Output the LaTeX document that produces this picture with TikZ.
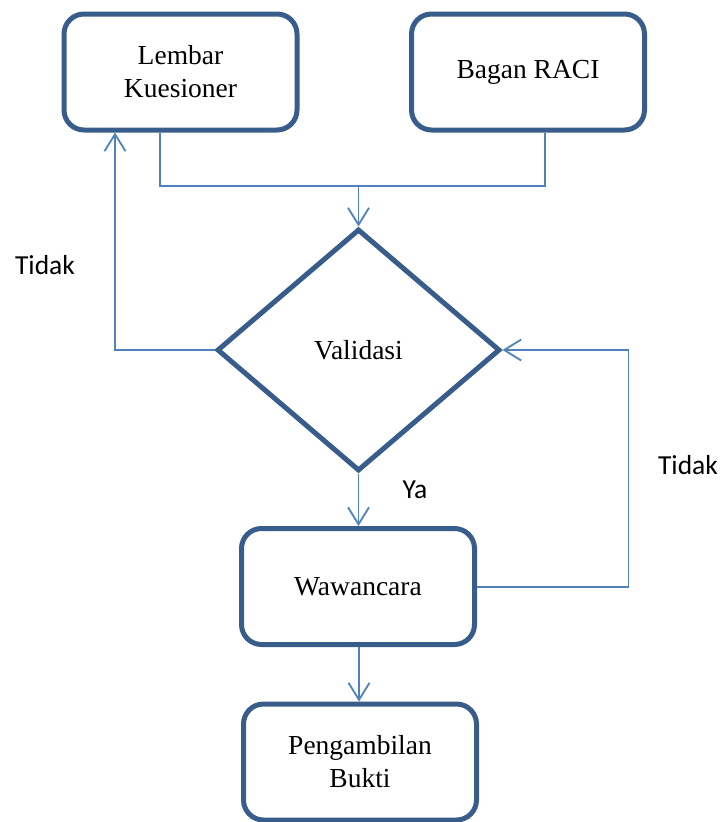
\documentclass[tikz,border=0pt]{standalone}
\usepackage{fontspec}
\setmainfont{Liberation Serif}
\newfontfamily\labfont{Carlito}
\usetikzlibrary{shapes.geometric,arrows.meta}
\definecolor{boxblue}{HTML}{385D8A}
\definecolor{linkblue}{HTML}{4F81BD}
\begin{document}
\begin{tikzpicture}[x=1pt,y=-1pt,
  box/.style={draw=boxblue,line width=5pt,rounded corners=20pt,minimum width=233pt,minimum height=116pt,inner sep=0pt,align=center,font=\fontsize{27.5}{33}\selectfont},
  dec/.style={draw=boxblue,line width=5pt,diamond,minimum width=283pt,minimum height=242pt,inner sep=0pt,font=\fontsize{27.5}{33}\selectfont},
  link/.style={draw=linkblue,line width=1.8pt},
  arr/.style={link,-{Straight Barb[length=17pt,width=21pt,line width=1.8pt]}},
  lab/.style={font=\labfont\fontsize{27.5}{33}\selectfont,inner sep=0pt}]
\useasboundingbox (0,0) rectangle (721,822);
\node[box] (lk) at (180.5,72) {Lembar\\Kuesioner};
\node[box] (br) at (528,72) {Bagan RACI};
\node[dec] (val) at (358.5,350) {Validasi};
\node[box] (ww) at (358,586.5) {Wawancara};
\node[box] (pb) at (360,762) {Pengambilan\\Bukti};
\coordinate (j) at (358.5,186);
\draw[link] (lk.south -| 160,0) |- (j);
\draw[link] (br.south -| 545,0) |- (j);
\draw[arr] (j) -- (val.north);
\draw[arr] (val.west) -| (lk.south -| 115,0);
\coordinate (rc) at (628.5,587);
\draw[arr] (ww.east |- rc) -- (rc) |- (val.east);
\draw[arr] (val.south) -- (ww.north -| val.south);
\draw[arr] (ww.south -| 359,0) -- (pb.north -| 359,0);
\node[lab] (t1) at (45,265) {Tidak};
\node[lab] (ya) at (415,490) {Ya};
\node[lab] (t2) at (688,465) {Tidak};
\end{tikzpicture}
\end{document}
